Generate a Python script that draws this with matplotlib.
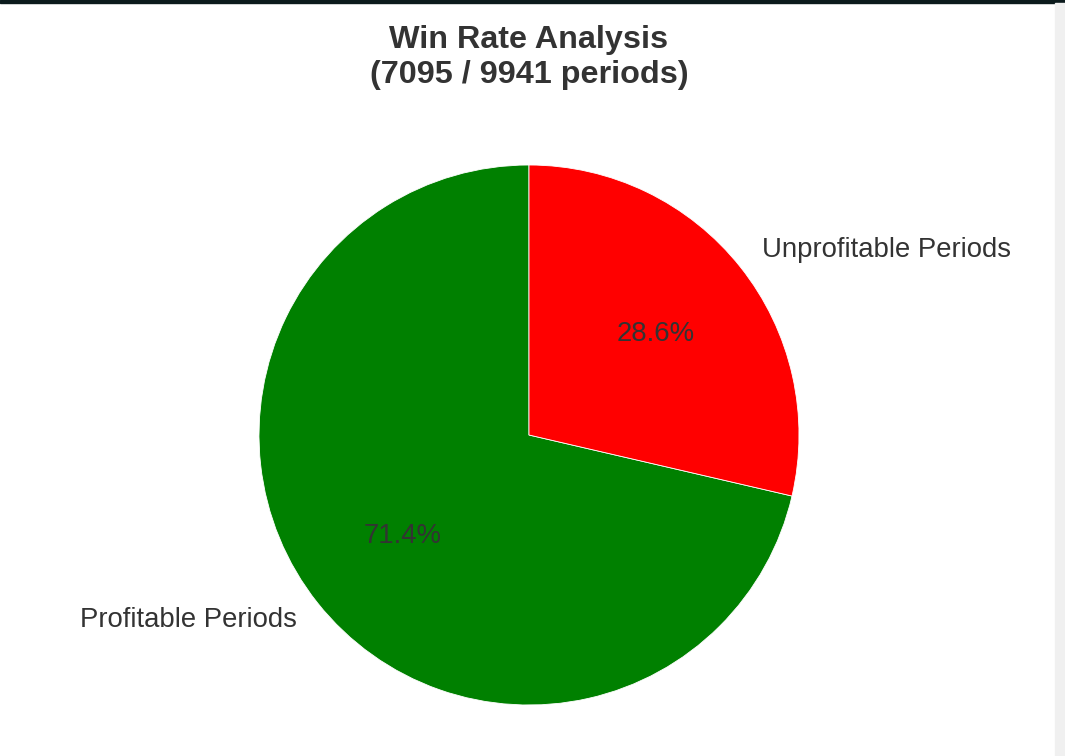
import matplotlib.pyplot as plt
import matplotlib.patches as mpatches

labels = ["Profitable Periods", "Unprofitable Periods"]
counts = [7095, 9941 - 7095]
colors = ["green", "red"]
total_periods = 9941

plt.rcParams["font.family"] = ["Liberation Sans", "DejaVu Sans"]
text_color = "#333333"

W, H = 1065, 756
fig = plt.figure(figsize=(W / 100, H / 100), dpi=100)
fig.patch.set_facecolor("white")

# pie centre and radius in pixels
cx, cy, r = 529, 435, 270
ax = fig.add_axes([(cx - r) / W, (H - cy - r) / H, 2 * r / W, 2 * r / H])

wedges, texts, autotexts = ax.pie(
    counts,
    labels=labels,
    colors=colors,
    autopct="%1.1f%%",
    startangle=90,
    wedgeprops={"edgecolor": "white", "linewidth": 0.6},
    textprops={"fontsize": 19.8, "color": text_color},
)
ax.set_xlim(-1, 1)
ax.set_ylim(-1, 1)
ax.set_aspect("equal")

fig.text(cx / W, 1 - 57.5 / H,
         f"Win Rate Analysis\n({counts[0]} / {total_periods} periods)",
         ha="center", va="center", fontsize=23.3, fontweight="bold",
         color=text_color, linespacing=1.2)

# screenshot borders
fig.patches.append(mpatches.Rectangle((0, 1 - 3 / H), 1, 3 / H,
                                      transform=fig.transFigure,
                                      color="#0b1a1c", zorder=10))
fig.patches.append(mpatches.Rectangle((1 - 10 / W, 0), 10 / W, 1 - 3 / H,
                                      transform=fig.transFigure,
                                      color="#f0f0f0", zorder=10))

fig.savefig("out.png", dpi=100)
